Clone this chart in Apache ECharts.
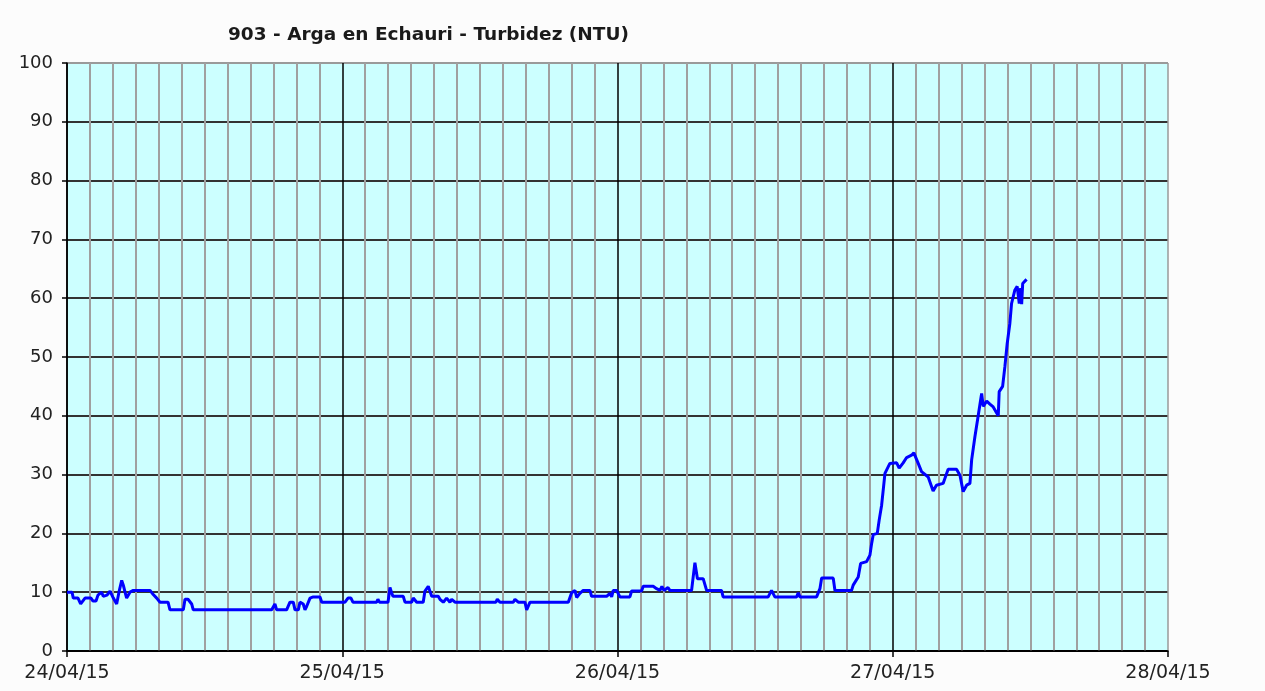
<!DOCTYPE html>
<html>
<head>
<meta charset="utf-8">
<script src="https://cdn.jsdelivr.net/npm/echarts@6/dist/echarts.min.js"></script>
<style>
  html, body { margin: 0; padding: 0; background: #fcfcfc; }
  #main { width: 1265px; height: 691px; }
</style>
</head>
<body>
<div id="main"></div>
<script>
// fechas de los ejes (cada 24 h)
const dayLabels = ['24/04/15', '25/04/15', '26/04/15', '27/04/15', '28/04/15'];

// horas desde 24/04/15 00:00
const hours = [
  0, 0.44, 0.55, 0.96, 1.19, 1.57, 2.09, 2.27, 2.53, 2.70, 3.02, 3.16, 3.49, 3.75, 4.04, 4.33,
  4.53, 4.77, 4.91, 5.06, 5.20, 5.49, 5.78, 7.24, 7.52, 7.82, 8.11, 8.81, 8.98, 10.14, 10.29, 10.55,
  10.87, 11.01, 17.85, 18.13, 18.28, 19.15, 19.44, 19.73, 19.88, 20.17, 20.31, 20.60, 20.75, 20.90,
  21.19, 21.47, 22.06, 22.21, 24.24, 24.50, 24.76, 24.93, 27.00, 27.11, 27.24, 27.99, 28.16, 28.29,
  28.42, 29.32, 29.47, 30.05, 30.19, 30.49, 31.06, 31.21, 31.50, 31.65, 31.80, 32.37, 32.52, 32.81,
  33.10, 33.39, 33.54, 33.83, 37.40, 37.52, 37.75, 38.91, 39.06, 39.35, 39.93, 40.08, 40.37, 43.71,
  44.00, 44.29, 44.44, 44.72, 45.01, 45.60, 45.74, 47.05, 47.34, 47.49, 47.63, 47.92, 48.21, 49.08,
  49.23, 50.10, 50.24, 51.11, 51.41, 51.70, 51.87, 52.05, 52.40, 52.57, 54.46, 54.60, 54.75, 54.90,
  54.97, 55.47, 55.77, 57.07, 57.21, 61.14, 61.43, 61.72, 63.62, 63.76, 63.91, 65.36, 65.65, 65.80,
  66.81, 66.96, 68.41, 68.55, 68.99, 69.20, 69.72, 70.01, 70.16, 70.30, 70.65, 70.82, 71.03, 71.17,
  71.32, 71.75, 72.34, 72.56, 72.91, 73.21, 73.64, 73.84, 74.22, 74.51, 75.09, 75.52, 75.81, 76.39,
  76.83, 77.56, 77.86, 78.14, 78.44, 78.73, 78.88, 79.16, 79.45, 79.75, 79.89, 80.19, 80.47, 80.76,
  81.20, 81.28, 81.58, 81.78, 81.98, 82.21, 82.36, 82.65, 82.85, 83.03, 83.15, 83.24, 83.33, 83.67
];

// turbidez (NTU)
const turbidez = [
  10, 10, 9, 9, 8, 9, 9, 8.5, 8.5, 9.5, 10, 9.3, 9.5, 10.2, 9, 8,
  10, 12, 11.2, 10, 9, 10, 10.3, 10.3, 9.6, 9, 8.3, 8.3, 7, 7, 8.8, 8.8,
  8, 7, 7, 8, 7, 7, 8.3, 8.3, 7, 7, 8.3, 8, 7, 7.6,
  9, 9.2, 9.2, 8.3, 8.3, 9, 9, 8.3, 8.3, 8.8, 8.3, 8.3, 10.8, 10,
  9.3, 9.3, 8.3, 8.3, 9, 8.3, 8.3, 10.2, 11, 11, 9.3, 9.3, 8.8, 8.3,
  9, 8.3, 8.8, 8.3, 8.3, 8.8, 8.3, 8.3, 8.8, 8.3, 8.3, 7, 8.3, 8.3,
  9.9, 10.3, 9.1, 9.8, 10.3, 10.3, 9.3, 9.3, 9.8, 9.2, 10.3, 10.3, 9.2, 9.2,
  10.2, 10.2, 11, 11, 10.6, 10.3, 11, 10.3, 10.8, 10.3, 10.3, 12.6, 15, 14.8,
  12.3, 12.3, 10.3, 10.3, 9.2, 9.2, 10.3, 9.2, 9.2, 9.9, 9.2, 9.2, 10.6, 12.4,
  12.4, 10.3, 10.3, 11.2, 12.6, 14.9, 15.2, 16.3, 18.3, 19.8, 20, 22.3, 24.8, 27.4,
  30.2, 31.9, 32, 31.1, 32, 32.9, 33.3, 33.7, 31.9, 30.5, 29.6, 27.2, 28.2, 28.5,
  30.9, 30.9, 29.9, 27.1, 28.2, 28.5, 32.5, 36.4, 40, 43.8, 41.6, 42.5, 42, 41.5,
  40, 44.1, 45, 48.4, 52.3, 55.7, 59.1, 61.4, 62, 59.1, 61.7, 59, 62.5, 63.2
];

const yTicks = [0, 10, 20, 30, 40, 50, 60, 70, 80, 90, 100];

const seriesData = hours.map((h, i) => [h, turbidez[i]]);

let myChart = echarts.init(document.getElementById('main'));

myChart.setOption({
  backgroundColor: '#fcfcfc',
  animation: false,
  title: {
    text: '903 - Arga en Echauri - Turbidez (NTU)',
    left: 223,
    top: 21,
    textStyle: { fontFamily: 'DejaVu Sans', fontSize: 18.5, fontWeight: 'bold', color: '#1a1a1a' }
  },
  grid: {
    left: 67, right: 97, top: 63, bottom: 40,
    show: true, backgroundColor: '#ccffff', borderWidth: 0
  },
  xAxis: {
    type: 'value',
    min: 0,
    max: 96,
    interval: 24,
    axisLine: { show: true, onZero: false, lineStyle: { color: '#000', width: 1.5 } },
    axisTick: { show: true, length: 6, lineStyle: { color: '#000', width: 1.5 } },
    axisLabel: {
      margin: 13,
      fontFamily: 'DejaVu Sans', fontSize: 19, color: '#222',
      formatter: v => dayLabels[Math.round(v / 24)]
    },
    splitLine: { show: true, lineStyle: { color: ['#000', '#000', '#000', '#000', '#9a9a9a'], width: 1.5 } },
    minorTick: { show: false, splitNumber: 12 },
    minorSplitLine: { show: true, lineStyle: { color: '#a0a0a0', width: 2 } }
  },
  yAxis: {
    type: 'value',
    min: 0,
    max: 100,
    interval: 10,
    axisLine: { show: true, lineStyle: { color: '#000', width: 1.5 } },
    axisTick: { show: true, length: 5, lineStyle: { color: '#000', width: 1.5 } },
    axisLabel: {
      margin: 14,
      fontFamily: 'DejaVu Sans', fontSize: 18, color: '#222',
      formatter: v => String(yTicks[v / 10])
    },
    splitLine: {
      show: true,
      lineStyle: {
        color: ['#000', '#333', '#333', '#333', '#333', '#333', '#333', '#333', '#333', '#333', '#9a9a9a'],
        width: 2
      }
    }
  },
  series: [
    {
      name: 'Turbidez',
      type: 'line',
      data: seriesData,
      showSymbol: false,
      symbol: 'none',
      lineStyle: { color: '#0000ff', width: 3 },
      z: 5
    }
  ]
});
</script>
</body>
</html>
